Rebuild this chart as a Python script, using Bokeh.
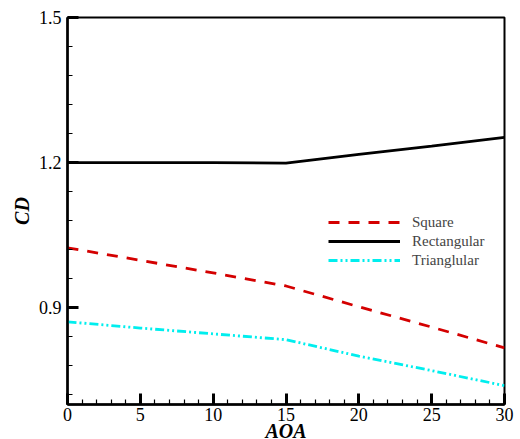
from bokeh.plotting import figure
from bokeh.models import FixedTicker, Legend, LegendItem, Range1d, PrintfTickFormatter
from bokeh.embed import file_html
from bokeh.resources import INLINE

aoa = [0, 5, 10, 15, 20, 25, 30]
cd_square = [1.024, 0.998, 0.972, 0.945, 0.902, 0.860, 0.817]
cd_rect = [1.200, 1.200, 1.200, 1.199, 1.217, 1.234, 1.252]
cd_tri = [0.871, 0.858, 0.846, 0.834, 0.800, 0.770, 0.739]

x_major = [0, 5, 10, 15, 20, 25, 30]
x_minor = list(range(0, 31))
y_major = [0.9, 1.2, 1.5]
y_minor = [0.72, 0.78, 0.84, 0.96, 1.02, 1.08, 1.14, 1.26, 1.32, 1.38, 1.44]

FONT = "Liberation Serif"

p = figure(width=520, height=439, output_backend="svg", toolbar_location=None,
           x_range=Range1d(0, 30), y_range=Range1d(0.7, 1.5),
           min_border_left=67, min_border_right=16, min_border_top=17, min_border_bottom=35)
p.frame_width = 437
p.frame_height = 387
p.grid.visible = False
p.outline_line_color = "black"
p.outline_line_width = 2

for ax in (p.xaxis[0], p.yaxis[0]):
    ax.axis_line_width = 2.5
    ax.axis_line_color = "black"
    ax.major_tick_in = 11
    ax.major_tick_out = 0
    ax.minor_tick_in = 5
    ax.minor_tick_out = 0
    ax.major_tick_line_width = 3
    ax.major_tick_line_color = "black"
    ax.minor_tick_line_width = 1.2
    ax.minor_tick_line_color = "black"
    ax.major_label_text_font = FONT
    ax.major_label_text_font_size = "18px"
    ax.major_label_text_color = "black"
    ax.axis_label_text_font = FONT
    ax.axis_label_text_font_style = "bold italic"
    ax.axis_label_text_font_size = "20px"
    ax.axis_label_text_color = "black"

p.xaxis.ticker = FixedTicker(ticks=x_major, minor_ticks=x_minor)
p.yaxis.ticker = FixedTicker(ticks=y_major, minor_ticks=y_minor)
p.yaxis.formatter = PrintfTickFormatter(format="%.1f")
p.xaxis.major_label_standoff = 3
p.yaxis.major_label_standoff = 6
p.xaxis.axis_label = "AOA"
p.yaxis.axis_label = "CD"
p.xaxis.axis_label_standoff = -4
p.yaxis.axis_label_standoff = 3

r_sq = p.line(aoa, cd_square, line_color="#d40000", line_width=2.8, line_dash="11 9")
r_re = p.line(aoa, cd_rect, line_color="black", line_width=2.8)
r_tr = p.line(aoa, cd_tri, line_color="#00eeee", line_width=2.8, line_dash="9 3 2 3 2 3")

legend = Legend(items=[LegendItem(label="Square", renderers=[r_sq]),
                       LegendItem(label="Rectangular", renderers=[r_re]),
                       LegendItem(label="Trianglular", renderers=[r_tr])],
                location=(261, 135))
legend.padding = 0
legend.margin = 0
legend.spacing = 1
legend.glyph_width = 72
legend.glyph_height = 18
legend.label_height = 18
legend.label_standoff = 12
legend.label_text_font = FONT
legend.label_text_font_size = "15px"
legend.border_line_alpha = 0
legend.background_fill_alpha = 0
p.add_layout(legend, "center")

open("out.html", "w").write(file_html(p, INLINE))
